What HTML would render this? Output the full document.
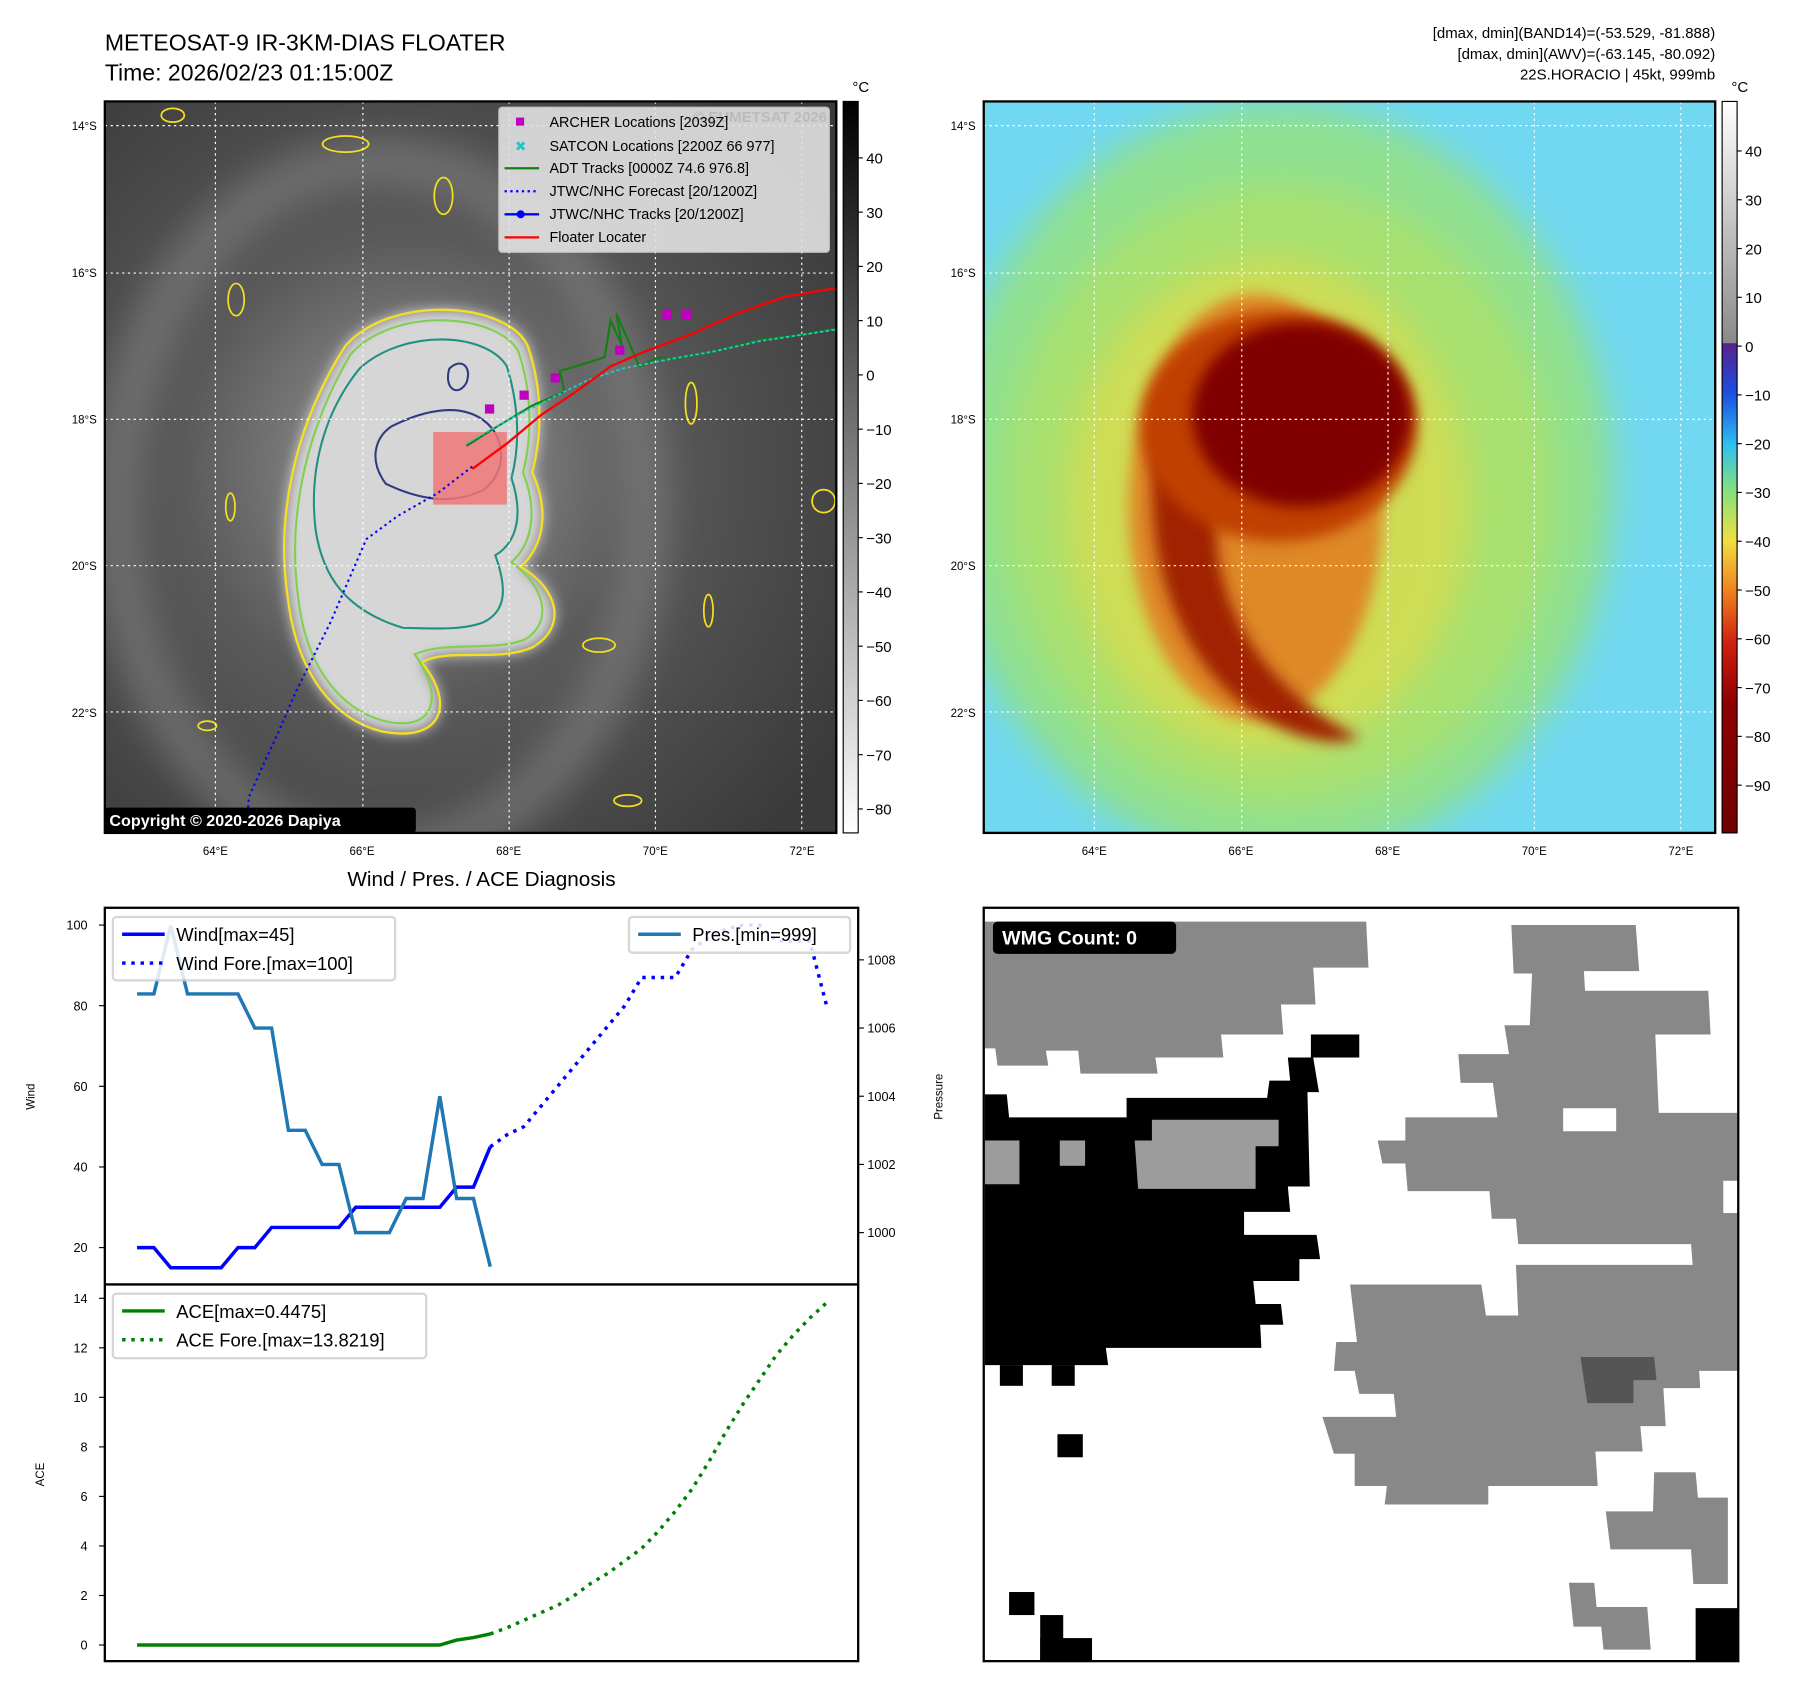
<!DOCTYPE html>
<html><head><meta charset="utf-8"><style>
html,body{margin:0;padding:0;background:#fff}
svg{display:block;font-family:"Liberation Sans","DejaVu Sans",sans-serif}
</style></head><body>
<svg id="root" width="1797" height="1690" viewBox="0 0 1560 1467" xmlns="http://www.w3.org/2000/svg">
<defs>
<radialGradient id="irbg" cx="0.42" cy="0.5" r="0.7">
<stop offset="0" stop-color="#9a9a9a"/><stop offset="0.45" stop-color="#5a5a5a"/><stop offset="1" stop-color="#3a3a3a"/></radialGradient>
<linearGradient id="cbL" x1="0" y1="0" x2="0" y2="1"><stop offset="0" stop-color="#000"/><stop offset="1" stop-color="#fff"/></linearGradient>
<linearGradient id="cbR" x1="0" y1="0" x2="0" y2="1">
<stop offset="0" stop-color="#ffffff"/><stop offset="0.33" stop-color="#8a8a8a"/><stop offset="0.331" stop-color="#5a2090"/>
<stop offset="0.4" stop-color="#1a50e0"/><stop offset="0.47" stop-color="#30c0f0"/><stop offset="0.53" stop-color="#80e080"/>
<stop offset="0.6" stop-color="#f0e040"/><stop offset="0.67" stop-color="#f08020"/><stop offset="0.74" stop-color="#d02010"/>
<stop offset="0.82" stop-color="#900000"/><stop offset="1" stop-color="#700000"/></linearGradient>
<filter id="blur6"><feGaussianBlur stdDeviation="6"/></filter>
<filter id="blur15"><feGaussianBlur stdDeviation="15"/></filter>
<clipPath id="clipL"><rect x="91" y="88" width="635" height="635"/></clipPath>
<clipPath id="clipR"><rect x="854" y="88" width="635" height="635"/></clipPath>
<clipPath id="clipW"><rect x="91" y="788" width="654" height="327"/></clipPath>
</defs>

<text x="91" y="44" font-size="20">METEOSAT-9 IR-3KM-DIAS FLOATER</text>
<text x="91" y="70" font-size="20">Time: 2026/02/23 01:15:00Z</text>
<g font-size="13" text-anchor="end">
<text x="1489" y="33">[dmax, dmin](BAND14)=(-53.529, -81.888)</text>
<text x="1489" y="51">[dmax, dmin](AWV)=(-63.145, -80.092)</text>
<text x="1489" y="69">22S.HORACIO | 45kt, 999mb</text>
</g>

<g clip-path="url(#clipL)">
<rect x="91" y="88" width="635" height="635" fill="url(#irbg)"/>
<ellipse cx="330" cy="440" rx="230" ry="300" fill="none" stroke="#8a8a8a" stroke-width="40" opacity="0.5" filter="url(#blur15)"/>
<path d="M300,300 C340,255 440,262 458,300 C472,340 470,380 462,410 C476,440 474,472 452,492 C486,512 492,545 462,562 C432,575 388,562 366,575 C395,610 385,645 332,635 C290,625 258,585 250,520 C240,455 252,375 300,300 Z" fill="#d6d6d6" filter="url(#blur6)"/>
<path d="M300,300 C340,255 440,262 458,300 C472,340 470,380 462,410 C476,440 474,472 452,492 C486,512 492,545 462,562 C432,575 388,562 366,575 C395,610 385,645 332,635 C290,625 258,585 250,520 C240,455 252,375 300,300 Z" fill="none" stroke="#f5e020" stroke-width="2"/>
<path d="M304,308 C342,265 432,272 450,305 C462,340 462,380 454,410 C466,440 464,470 444,488 C474,510 480,540 456,555 C428,566 386,556 360,568 C386,604 378,636 334,626 C296,616 266,580 259,520 C250,455 262,380 304,308 Z" fill="none" stroke="#80d050" stroke-width="1.8"/>
<path d="M312,320 C350,285 422,288 440,318 C450,350 452,385 444,415 C454,445 450,470 430,482 C440,510 440,530 420,540 C400,548 370,545 350,545 C300,530 280,500 274,460 C268,410 280,360 312,320 Z" fill="none" stroke="#209080" stroke-width="1.8"/>
<path d="M340,370 C370,355 400,350 420,365 C440,380 440,410 420,425 C390,440 360,432 335,420 C320,400 325,380 340,370 Z" fill="none" stroke="#303a80" stroke-width="1.8"/>
<path d="M390,320 C400,310 410,318 405,332 C398,345 385,338 390,320 Z" fill="none" stroke="#303a80" stroke-width="1.8"/>
<g fill="none" stroke="#f5e020" stroke-width="1.5">
<ellipse cx="385" cy="170" rx="8" ry="16"/><ellipse cx="205" cy="260" rx="7" ry="14"/><ellipse cx="300" cy="125" rx="20" ry="7"/>
<ellipse cx="600" cy="350" rx="5" ry="18"/><ellipse cx="615" cy="530" rx="4" ry="14"/><ellipse cx="520" cy="560" rx="14" ry="6"/>
<ellipse cx="715" cy="435" rx="10" ry="10"/><ellipse cx="545" cy="695" rx="12" ry="5"/><ellipse cx="180" cy="630" rx="8" ry="4"/>
<ellipse cx="150" cy="100" rx="10" ry="6"/><ellipse cx="200" cy="440" rx="4" ry="12"/>
</g>
<rect x="376" y="375" width="64" height="63" fill="#f07878" opacity="0.85"/>
<g stroke="#fff" stroke-width="1" stroke-dasharray="2,3">
<line x1="91" x2="726" y1="109" y2="109"/><line x1="91" x2="726" y1="237" y2="237"/><line x1="91" x2="726" y1="364" y2="364"/><line x1="91" x2="726" y1="491" y2="491"/><line x1="91" x2="726" y1="618" y2="618"/>
<line y1="88" y2="723" x1="187" x2="187"/><line y1="88" y2="723" x1="315" x2="315"/><line y1="88" y2="723" x1="442" x2="442"/><line y1="88" y2="723" x1="569" x2="569"/><line y1="88" y2="723" x1="696" x2="696"/>
</g>
<polyline points="410,405 380,428 345,448 318,468 302,505 287,540 272,570 257,600 242,635 228,665 216,692 214,723" fill="none" stroke="#0000ff" stroke-width="1.8" stroke-dasharray="2,3"/>
<polyline points="405,387 432,370 462,352 490,340 486,322 500,318 525,310 530,278 540,300 535,272 555,318 572,310 585,312 620,305 660,295 700,290 726,285" fill="none" stroke="#108010" stroke-width="1.8"/>
<g fill="none" stroke="#20c8c8" stroke-width="1.6">
<polyline points="405,385 440,365 480,345 510,330 540,320 580,312 620,305 660,296 700,290 726,286" stroke-dasharray="3,2"/>
</g>
<polyline points="410,407 440,385 470,360 500,340 530,318 560,305 600,290 640,272 680,258 726,250" fill="none" stroke="#ff0000" stroke-width="2"/>
<g fill="#c000c0">
<rect x="421" y="351" width="8" height="8"/><rect x="451" y="339" width="8" height="8"/><rect x="478" y="324" width="8" height="8"/><rect x="534" y="300" width="8" height="8"/><rect x="575" y="269" width="8" height="8"/><rect x="592" y="269" width="8" height="8"/>
</g>
<rect x="433" y="93" width="287" height="126" rx="3" fill="#e2e2e2" opacity="0.9" stroke="#ccc"/>
<text x="718" y="106" font-size="13" font-weight="bold" fill="#bbb" text-anchor="end">© EUMETSAT 2026</text>
<g font-size="12.5">
<rect x="448" y="102" width="7" height="7" fill="#c000c0"/><text x="477" y="110">ARCHER Locations [2039Z]</text>
<text x="447" y="131" fill="#20c8c8" font-size="12">✖</text><text x="477" y="131">SATCON Locations [2200Z 66 977]</text>
<line x1="438" x2="468" y1="146" y2="146" stroke="#108010" stroke-width="2"/><text x="477" y="150">ADT Tracks [0000Z 74.6 976.8]</text>
<line x1="438" x2="468" y1="166" y2="166" stroke="#0000ff" stroke-width="2" stroke-dasharray="2,3"/><text x="477" y="170">JTWC/NHC Forecast [20/1200Z]</text>
<line x1="438" x2="468" y1="186" y2="186" stroke="#0000ff" stroke-width="2"/><circle cx="452" cy="186" r="3.5" fill="#0000ff"/><text x="477" y="190">JTWC/NHC Tracks [20/1200Z]</text>
<line x1="438" x2="468" y1="206" y2="206" stroke="#ff0000" stroke-width="2"/><text x="477" y="210">Floater Locater</text>
</g>
<rect x="91" y="701" width="270" height="22" rx="3" fill="#000"/>
<text x="95" y="717" font-size="14" font-weight="bold" fill="#fff">Copyright © 2020-2026 Dapiya</text>
</g>
<rect x="91" y="88" width="635" height="635" fill="none" stroke="#000" stroke-width="2"/>
<rect x="732" y="88" width="13" height="635" fill="url(#cbL)" stroke="#000" stroke-width="1"/>
<text x="740" y="80" font-size="13">°C</text>
<g id="cbLticks" font-size="13"></g>

<g clip-path="url(#clipR)">
<rect x="854" y="88" width="635" height="635" fill="#70d8f0"/>
<ellipse cx="1110" cy="420" rx="290" ry="330" fill="#90e090" filter="url(#blur15)"/>
<ellipse cx="1110" cy="430" rx="240" ry="270" fill="#a8e070" filter="url(#blur15)"/>
<ellipse cx="1100" cy="440" rx="175" ry="215" fill="#d8dc50" opacity="0.8" filter="url(#blur15)"/>
<ellipse cx="1090" cy="440" rx="110" ry="185" fill="#e08020" opacity="0.9" filter="url(#blur6)"/>
<path d="M1020,330 C980,420 1000,560 1090,620 C1120,640 1160,650 1180,640 C1100,600 1040,520 1060,420 Z" fill="#a02000" filter="url(#blur6)"/>
<ellipse cx="1110" cy="370" rx="120" ry="100" fill="#c04000" filter="url(#blur6)"/>
<ellipse cx="1130" cy="360" rx="95" ry="80" fill="#800000" filter="url(#blur6)"/>
<g stroke="#fff" stroke-width="1" stroke-dasharray="2,3">
<line x1="854" x2="1489" y1="109" y2="109"/><line x1="854" x2="1489" y1="237" y2="237"/><line x1="854" x2="1489" y1="364" y2="364"/><line x1="854" x2="1489" y1="491" y2="491"/><line x1="854" x2="1489" y1="618" y2="618"/>
<line y1="88" y2="723" x1="950" x2="950"/><line y1="88" y2="723" x1="1078" x2="1078"/><line y1="88" y2="723" x1="1205" x2="1205"/><line y1="88" y2="723" x1="1332" x2="1332"/><line y1="88" y2="723" x1="1459" x2="1459"/>
</g>
</g>
<rect x="854" y="88" width="635" height="635" fill="none" stroke="#000" stroke-width="2"/>
<rect x="1495" y="88" width="13" height="635" fill="url(#cbR)" stroke="#000" stroke-width="1"/>
<text x="1503" y="80" font-size="13">°C</text>
<g id="cbRticks" font-size="13"></g>
<g id="mapLabels" font-size="10"></g>

<text x="418" y="769" font-size="18" text-anchor="middle">Wind / Pres. / ACE Diagnosis</text>
<g id="diag"></g>
<rect x="91" y="788" width="654" height="654" fill="none" stroke="#000" stroke-width="2"/>
<line x1="91" x2="745" y1="1115" y2="1115" stroke="#000" stroke-width="2"/>
<text transform="translate(30,952) rotate(-90)" font-size="10" text-anchor="middle">Wind</text>
<text transform="translate(818,952) rotate(-90)" font-size="10" text-anchor="middle">Pressure</text>
<text transform="translate(38,1280) rotate(-90)" font-size="10" text-anchor="middle">ACE</text>

<g>
<rect x="854" y="788" width="655" height="654" fill="#fff"/>
<g fill="#888">
<polygon points="855,800 1186,800 1188,840 1140,840 1142,872 1112,872 1114,898 1060,898 1062,918 1003,918 1005,932 938,932 936,912 908,912 910,925 866,925 864,910 855,910"/>
<polygon points="1312,803 1420,803 1423,843 1375,843 1376,860 1483,860 1485,898 1437,898 1440,966 1508,966 1508,1105 1470,1105 1468,1080 1318,1080 1316,1058 1295,1058 1293,1034 1222,1034 1220,1010 1200,1010 1196,990 1220,990 1220,970 1300,970 1296,940 1268,940 1266,915 1310,915 1306,890 1328,890 1330,845 1314,845"/>
<polygon points="1172,1115 1286,1115 1290,1142 1318,1142 1316,1098 1508,1098 1508,1190 1475,1190 1476,1205 1444,1205 1446,1238 1424,1238 1426,1260 1385,1260 1387,1290 1292,1290 1292,1306 1202,1306 1204,1290 1176,1290 1176,1262 1158,1262 1148,1230 1212,1230 1210,1210 1180,1210 1176,1190 1158,1190 1160,1165 1178,1165"/>
<polygon points="1436,1278 1472,1278 1474,1300 1500,1300 1500,1375 1470,1375 1468,1345 1398,1345 1394,1312 1435,1312"/>
<polygon points="1362,1374 1384,1374 1386,1395 1430,1395 1433,1432 1392,1432 1390,1412 1366,1412"/>
</g>
<rect x="1357" y="962" width="46" height="20" fill="#fff"/>
<rect x="1496" y="1025" width="13" height="28" fill="#fff"/>
<polygon points="1372,1178 1436,1178 1438,1198 1418,1198 1418,1218 1378,1218" fill="#555"/>
<g fill="#000">
<polygon points="855,950 874,950 876,970 978,970 978,953 1100,953 1102,938 1120,938 1118,918 1140,918 1145,948 1135,948 1137,1030 1118,1030 1120,1052 1080,1052 1080,1072 1143,1072 1146,1093 1128,1093 1128,1112 1088,1112 1090,1132 1112,1132 1114,1150 1094,1150 1095,1170 960,1170 962,1185 855,1185"/>
<rect x="1138" y="898" width="42" height="20"/>
<rect x="868" y="1185" width="20" height="18"/><rect x="913" y="1185" width="20" height="18"/>
<rect x="918" y="1245" width="22" height="20"/><rect x="876" y="1382" width="22" height="20"/>
<rect x="903" y="1402" width="20" height="40"/><rect x="903" y="1422" width="45" height="20"/>
<rect x="1472" y="1396" width="37" height="46"/>
</g>
<g fill="#9c9c9c">
<polygon points="1000,972 1110,972 1110,995 1090,995 1090,1032 988,1032 985,990 1000,990"/>
<rect x="855" y="990" width="30" height="38"/><rect x="920" y="990" width="22" height="22"/>
</g>
<rect x="862" y="800" width="159" height="28" rx="4" fill="#000"/>
<text x="870" y="820" font-size="17" font-weight="bold" fill="#fff">WMG Count: 0</text>
</g>
<rect x="854" y="788" width="655" height="654" fill="none" stroke="#000" stroke-width="2"/>

<script>
const NS="http://www.w3.org/2000/svg";
const windObs=[20,20,15,15,15,15,20,20,25,25,25,25,25,30,30,30,30,30,30,35,35,45];
const windFore=[45,48,50,55,60,65,70,75,80,87,87,87,94,97,99,100,100,96,96,96,80];
const presObs=[1007,1007,1009,1007,1007,1007,1007,1006,1006,1003,1003,1002,1002,1000,1000,1000,1001,1001,1004,1001,1001,999];
const aceObs=[0,0,0,0,0,0,0,0,0,0,0,0,0,0,0,0,0,0,0,0.2,0.3,0.4475];
const aceFore=[0.4475,0.7,1.0,1.3,1.6,2.0,2.5,2.9,3.4,3.9,4.6,5.4,6.3,7.4,8.6,9.7,10.7,11.7,12.5,13.2,13.82];
const windTicks=[20,40,60,80,100];
const presTicks=[1000,1002,1004,1006,1008];
const aceTicks=[0,2,4,6,8,10,12,14];
const cbLTicks=[40,30,20,10,0,-10,-20,-30,-40,-50,-60,-70,-80];
const cbRTicks=[40,30,20,10,0,-10,-20,-30,-40,-50,-60,-70,-80,-90];
const latLabels=["14°S","16°S","18°S","20°S","22°S"];
const lonLabels=["64°E","66°E","68°E","70°E","72°E"];

const xS=i=>119+i*14.6;
const yW=v=>803+(100-v)*3.5;
const yP=p=>1070-(p-1000)*29.6;
const yA=a=>1428-a*21.5;
const yCL=v=>137+(40-v)*4.71;
const yCR=v=>131+(40-v)*4.235;
const latY=i=>109+i*127.3;
const lonX=i=>187+i*127.3;

function mk(tag,attrs,parent){const e=document.createElementNS(NS,tag);for(const k in attrs)e.setAttribute(k,attrs[k]);parent.appendChild(e);return e;}
function txt(parent,x,y,s,anchor,size){const t=mk("text",{x:x,y:y,"text-anchor":anchor||"start","font-size":size||11},parent);t.textContent=s;return t;}

const cl=document.getElementById("cbLticks");
cbLTicks.forEach(v=>{const y=yCL(v);mk("line",{x1:745,x2:749,y1:y,y2:y,stroke:"#000"},cl);const t=txt(cl,752,y+5,String(v).replace("-","−"),"start",13);

});
const cr=document.getElementById("cbRticks");
cbRTicks.forEach(v=>{const y=yCR(v);mk("line",{x1:1508,x2:1512,y1:y,y2:y,stroke:"#000"},cr);const t=txt(cr,1515,y+5,String(v).replace("-","−"),"start",13);

});
const ml=document.getElementById("mapLabels");
latLabels.forEach((s,i)=>{txt(ml,84,latY(i)+4,s,"end",10);txt(ml,847,latY(i)+4,s,"end",10);});
lonLabels.forEach((s,i)=>{txt(ml,lonX(i),742,s,"middle",10);txt(ml,lonX(i)+763,742,s,"middle",10);});

const g=document.getElementById("diag");
const gw=mk("g",{"clip-path":"url(#clipW)"},g);
function line(parent,vals,off,yf,color,w,dash,name){
  const pts=vals.map((v,i)=>xS(i+off).toFixed(1)+","+yf(v).toFixed(1)).join(" ");
  const p=mk("polyline",{points:pts,fill:"none",stroke:color,"stroke-width":w},parent);
  if(dash)p.setAttribute("stroke-dasharray",dash);
  
  
}
line(gw,windObs,0,yW,"#0000ff",3,null,"wind-line");
line(gw,windFore,windObs.length-1,yW,"#0000ff",3,"3,5","wind-forecast-line");
line(gw,presObs,0,yP,"#1f77b4",3,null,"pressure-line");
line(g,aceObs,0,yA,"#008000",3,null,"ace-line");
line(g,aceFore,aceObs.length-1,yA,"#008000",3,"3,5","ace-forecast-line");

windTicks.forEach(v=>{const y=yW(v);mk("line",{x1:86,x2:91,y1:y,y2:y,stroke:"#000"},g);txt(g,76,y+4,String(v),"end",11);});
presTicks.forEach(v=>{const y=yP(v);mk("line",{x1:745,x2:750,y1:y,y2:y,stroke:"#000"},g);txt(g,753,y+4,String(v),"start",11);});
aceTicks.forEach(v=>{const y=yA(v);mk("line",{x1:86,x2:91,y1:y,y2:y,stroke:"#000"},g);txt(g,76,y+4,String(v),"end",11);});

function legend(x,y,w,h,items){
  const lg=mk("g",{},g);
  
  
  mk("rect",{x:x,y:y,width:w,height:h,rx:3,fill:"#fff",opacity:0.85,stroke:"#d0d0d0","stroke-width":2},lg);
  items.forEach((it,i)=>{const yy=y+15+i*25;const l=mk("line",{x1:x+8,x2:x+45,y1:yy,y2:yy,stroke:it[1],"stroke-width":3},lg);if(it[2])l.setAttribute("stroke-dasharray","3,5");txt(lg,x+55,yy+6,it[0],"start",16);});
}
legend(98,796,245,55,[["Wind[max=45]","#0000ff",false],["Wind Fore.[max=100]","#0000ff",true]]);
legend(546,796,192,31,[["Pres.[min=999]","#1f77b4",false]]);
legend(98,1123,272,56,[["ACE[max=0.4475]","#008000",false],["ACE Fore.[max=13.8219]","#008000",true]]);
</script>
</svg>
</body></html>
